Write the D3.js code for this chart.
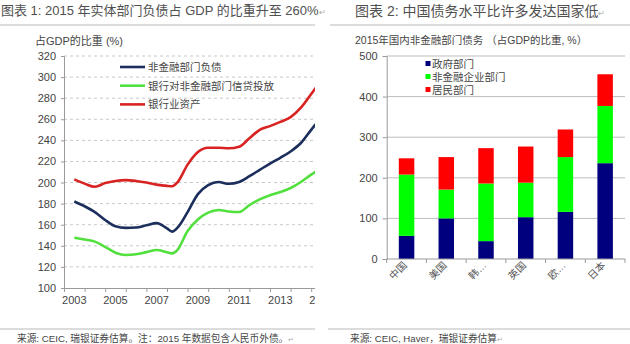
<!DOCTYPE html>
<html>
<head>
<meta charset="utf-8">
<script src="https://cdn.jsdelivr.net/npm/d3@7/dist/d3.min.js"></script>
<style>
  html, body { margin: 0; padding: 0; background: #fff; }
  svg { display: block; font-family: "Liberation Sans", Arial, "Noto Sans CJK SC", sans-serif; }
</style>
</head>
<body>
<svg id="chart" width="630" height="344"></svg>
<script>
// ---------- Data: chart 1 ----------
const years = [2003, 2003.5, 2004, 2004.5, 2005, 2005.5, 2006, 2006.5, 2007, 2007.5, 2007.75,
               2008, 2008.5, 2009, 2009.5, 2010, 2010.5, 2011, 2011.5, 2012, 2012.5, 2013,
               2013.5, 2014, 2014.5, 2015];
const nonFinDebt = [182, 177.5, 172, 164.5, 158.5, 157, 157.3, 159.5, 161.5, 156.5, 153.5,
                    157, 172, 189, 197.5, 200.5, 198.8, 200.5, 206, 212, 218, 223.5,
                    229.5, 237.5, 250, 262];
const bankCredit = [147.7, 146, 144, 139, 133.5, 131.3, 132, 134, 136, 134, 132.8,
                    136, 154, 165, 171.5, 174, 172.5, 172, 178.5, 184, 188, 191,
                    194.8, 200.5, 207.5, 214];
const bankAssets = [203, 199, 196, 199.5, 201.5, 202.3, 201.5, 200, 198, 196.8, 196.5,
                    200, 217, 229, 233, 233, 232.5, 234, 242, 250, 253.5, 257.5,
                    262, 271, 284, 297];
const lineNames = ["非金融部门负债", "银行对非金融部门信贷投放", "银行业资产"];
const lineColors = ["#1b2e5c", "#52e03e", "#d92323"];
const yTicks1 = [100, 120, 140, 160, 180, 200, 220, 240, 260, 280, 300, 320];
const xLabels1 = [2003, 2005, 2007, 2009, 2011, 2013, 2015];

// ---------- Data: chart 2 ----------
const countries = ["中国", "美国", "韩…", "英国", "欧…", "日本"];
const government = [57, 100, 44, 103, 116, 236];
const corporate = [151, 71, 142, 85, 135, 141];
const household = [40, 80, 87, 89, 68, 78];
const stackNames = ["政府部门", "非金融企业部门", "居民部门"];
const stackColors = ["#00007f", "#00ff00", "#ff0000"];
const yTicks2 = [0, 100, 200, 300, 400, 500];

const svg = d3.select("#chart");
const textCol = "#454545";

// ---------- Titles & frame lines ----------
function addTitle(x, y, txt, size) {
  const t = svg.append("text").attr("x", x).attr("y", y)
    .attr("font-size", size).attr("fill", "#505050").text(txt);
  t.append("tspan").attr("font-size", 8).attr("fill", "#aaa").text("↵");
}
addTitle(1, 15, "图表 1: 2015 年实体部门负债占 GDP 的比重升至 260%", 13);
addTitle(355, 16, "图表 2: 中国债务水平比许多发达国家低", 14);

svg.append("line").attr("x1", 0).attr("x2", 315).attr("y1", 25).attr("y2", 25)
  .attr("stroke", "#d0d0d0").attr("stroke-width", 1.5);
svg.append("line").attr("x1", 330).attr("x2", 630).attr("y1", 25).attr("y2", 25)
  .attr("stroke", "#d0d0d0").attr("stroke-width", 1.5);
svg.append("line").attr("x1", 0).attr("x2", 315).attr("y1", 329).attr("y2", 329)
  .attr("stroke", "#d0d0d0").attr("stroke-width", 1.5);
svg.append("line").attr("x1", 328).attr("x2", 630).attr("y1", 329).attr("y2", 329)
  .attr("stroke", "#d0d0d0").attr("stroke-width", 1.5);

const f1 = svg.append("text").attr("x", 17).attr("y", 342).attr("font-size", 9.7)
  .attr("fill", textCol).text("来源: CEIC, 瑞银证券估算。注：2015 年数据包含人民币外债。");
f1.append("tspan").attr("font-size", 7).attr("fill", "#aaa").text("↵");
const f2 = svg.append("text").attr("x", 350).attr("y", 342).attr("font-size", 9.7)
  .attr("fill", textCol).text("来源: CEIC, Haver，瑞银证券估算");
f2.append("tspan").attr("font-size", 7).attr("fill", "#aaa").text("↵");

// ---------- Chart 1 ----------
const x1 = d3.scaleLinear().domain([2002.5, 2015.5]).range([64, 64 + 13 * 20.6]);
const y1 = d3.scaleLinear().domain([100, 320]).range([288, 56]);

svg.append("defs").append("clipPath").attr("id", "clipL")
  .append("rect").attr("x", 0).attr("y", 0).attr("width", 315).attr("height", 344);

const g1 = svg.append("g").attr("clip-path", "url(#clipL)");

svg.append("text").attr("x", 35).attr("y", 45).attr("font-size", 11).attr("fill", textCol)
  .text("占GDP的比重 (%)");

// gridlines
g1.selectAll("line.grid").data(yTicks1.filter(d => d > 100)).join("line")
  .attr("x1", 64).attr("x2", 315)
  .attr("y1", d => y1(d)).attr("y2", d => y1(d))
  .attr("stroke", "#c8c8c8").attr("stroke-dasharray", "3,3").attr("stroke-width", 1);

// y axis
const yAxis1 = d3.axisLeft(y1).tickValues(yTicks1).tickSize(3).tickPadding(5);
const ya1 = g1.append("g").attr("transform", "translate(64,0)").call(yAxis1);
ya1.select(".domain").attr("stroke", "#9a9a9a");
ya1.selectAll(".tick line").attr("stroke", "#9a9a9a");
ya1.selectAll("text").attr("font-size", 11).attr("fill", textCol)
  .attr("font-family", "Liberation Sans, Arial, sans-serif");

// x axis
const boundaries = d3.range(2002.5, 2016, 1);
const xAxis1 = d3.axisBottom(x1).tickValues(boundaries).tickSize(4).tickFormat("");
const xa1 = g1.append("g").attr("transform", "translate(0,288)").call(xAxis1);
xa1.select(".domain").attr("stroke", "#9a9a9a");
xa1.selectAll(".tick line").attr("stroke", "#9a9a9a");
g1.selectAll("text.xl").data(xLabels1).join("text")
  .attr("x", d => x1(d)).attr("y", 304).attr("text-anchor", "middle")
  .attr("font-size", 11).attr("fill", textCol).text(d => d);

// lines
const seriesList = [nonFinDebt, bankCredit, bankAssets];
const lineGen = d3.line().x((d, i) => x1(years[i])).y(d => y1(d)).curve(d3.curveMonotoneX);
seriesList.forEach((s, k) => {
  g1.append("path").datum(s).attr("d", lineGen).attr("fill", "none")
    .attr("stroke", lineColors[k]).attr("stroke-width", 2.6).attr("stroke-linejoin", "round");
});

// legend
lineNames.forEach((n, k) => {
  const yy = 67 + k * 18.7;
  svg.append("line").attr("x1", 120).attr("x2", 145).attr("y1", yy).attr("y2", yy)
    .attr("stroke", lineColors[k]).attr("stroke-width", 2.6);
  svg.append("text").attr("x", 148).attr("y", yy + 3.8).attr("font-size", 10.5)
    .attr("fill", textCol).text(n);
});

// ---------- Chart 2 ----------
const x2 = d3.scaleBand().domain(countries).range([386.7, 625]).paddingInner(0.61).paddingOuter(0.305);
const y2 = d3.scaleLinear().domain([0, 500]).range([259, 56]);

svg.append("text").attr("x", 355).attr("y", 44).attr("font-size", 10.5).attr("fill", textCol)
  .text("2015年国内非金融部门债务 （占GDP的比重, %）");

svg.selectAll("line.grid2").data(yTicks2.filter(d => d > 0)).join("line")
  .attr("x1", 386.7).attr("x2", 625)
  .attr("y1", d => y2(d)).attr("y2", d => y2(d))
  .attr("stroke", "#bdbdbd").attr("stroke-width", 1);

const yAxis2 = d3.axisLeft(y2).tickValues(yTicks2).tickSize(4).tickPadding(5);
const ya2 = svg.append("g").attr("transform", "translate(386.7,0)").call(yAxis2);
ya2.select(".domain").attr("stroke", "#9a9a9a");
ya2.selectAll(".tick line").attr("stroke", "#9a9a9a");
ya2.selectAll("text").attr("font-size", 11).attr("fill", textCol)
  .attr("font-family", "Liberation Sans, Arial, sans-serif");

const stackData = countries.map((c, i) => ({
  country: c, gov: government[i], corp: corporate[i], hh: household[i]
}));
const stack = d3.stack().keys(["gov", "corp", "hh"])(stackData);
svg.append("g").selectAll("g").data(stack).join("g")
  .attr("fill", (d, i) => stackColors[i])
  .selectAll("rect").data(d => d).join("rect")
  .attr("x", d => x2(d.data.country))
  .attr("width", x2.bandwidth())
  .attr("y", d => y2(d[1]))
  .attr("height", d => y2(d[0]) - y2(d[1]));

// x axis chart 2
svg.append("line").attr("x1", 386.7).attr("x2", 625).attr("y1", 259).attr("y2", 259)
  .attr("stroke", "#9a9a9a");
const step = x2.step();
svg.selectAll("line.bt").data(d3.range(countries.length + 1)).join("line")
  .attr("x1", d => 386.7 + d * step).attr("x2", d => 386.7 + d * step)
  .attr("y1", 259).attr("y2", 263).attr("stroke", "#9a9a9a");
svg.selectAll("text.xl2").data(countries).join("text")
  .attr("transform", d => `translate(${x2(d) + x2.bandwidth() / 2 + 1},${266}) rotate(-45)`)
  .attr("text-anchor", "end").attr("font-size", 10).attr("fill", "#555")
  .text(d => d);

// legend chart 2
stackNames.forEach((n, k) => {
  const yy = 64 + k * 13;
  svg.append("rect").attr("x", 425.5).attr("y", yy - 3).attr("width", 5).attr("height", 5)
    .attr("fill", stackColors[k]);
  svg.append("text").attr("x", 432).attr("y", yy + 3.8).attr("font-size", 10.5)
    .attr("fill", textCol).text(n);
});
</script>
</body>
</html>
